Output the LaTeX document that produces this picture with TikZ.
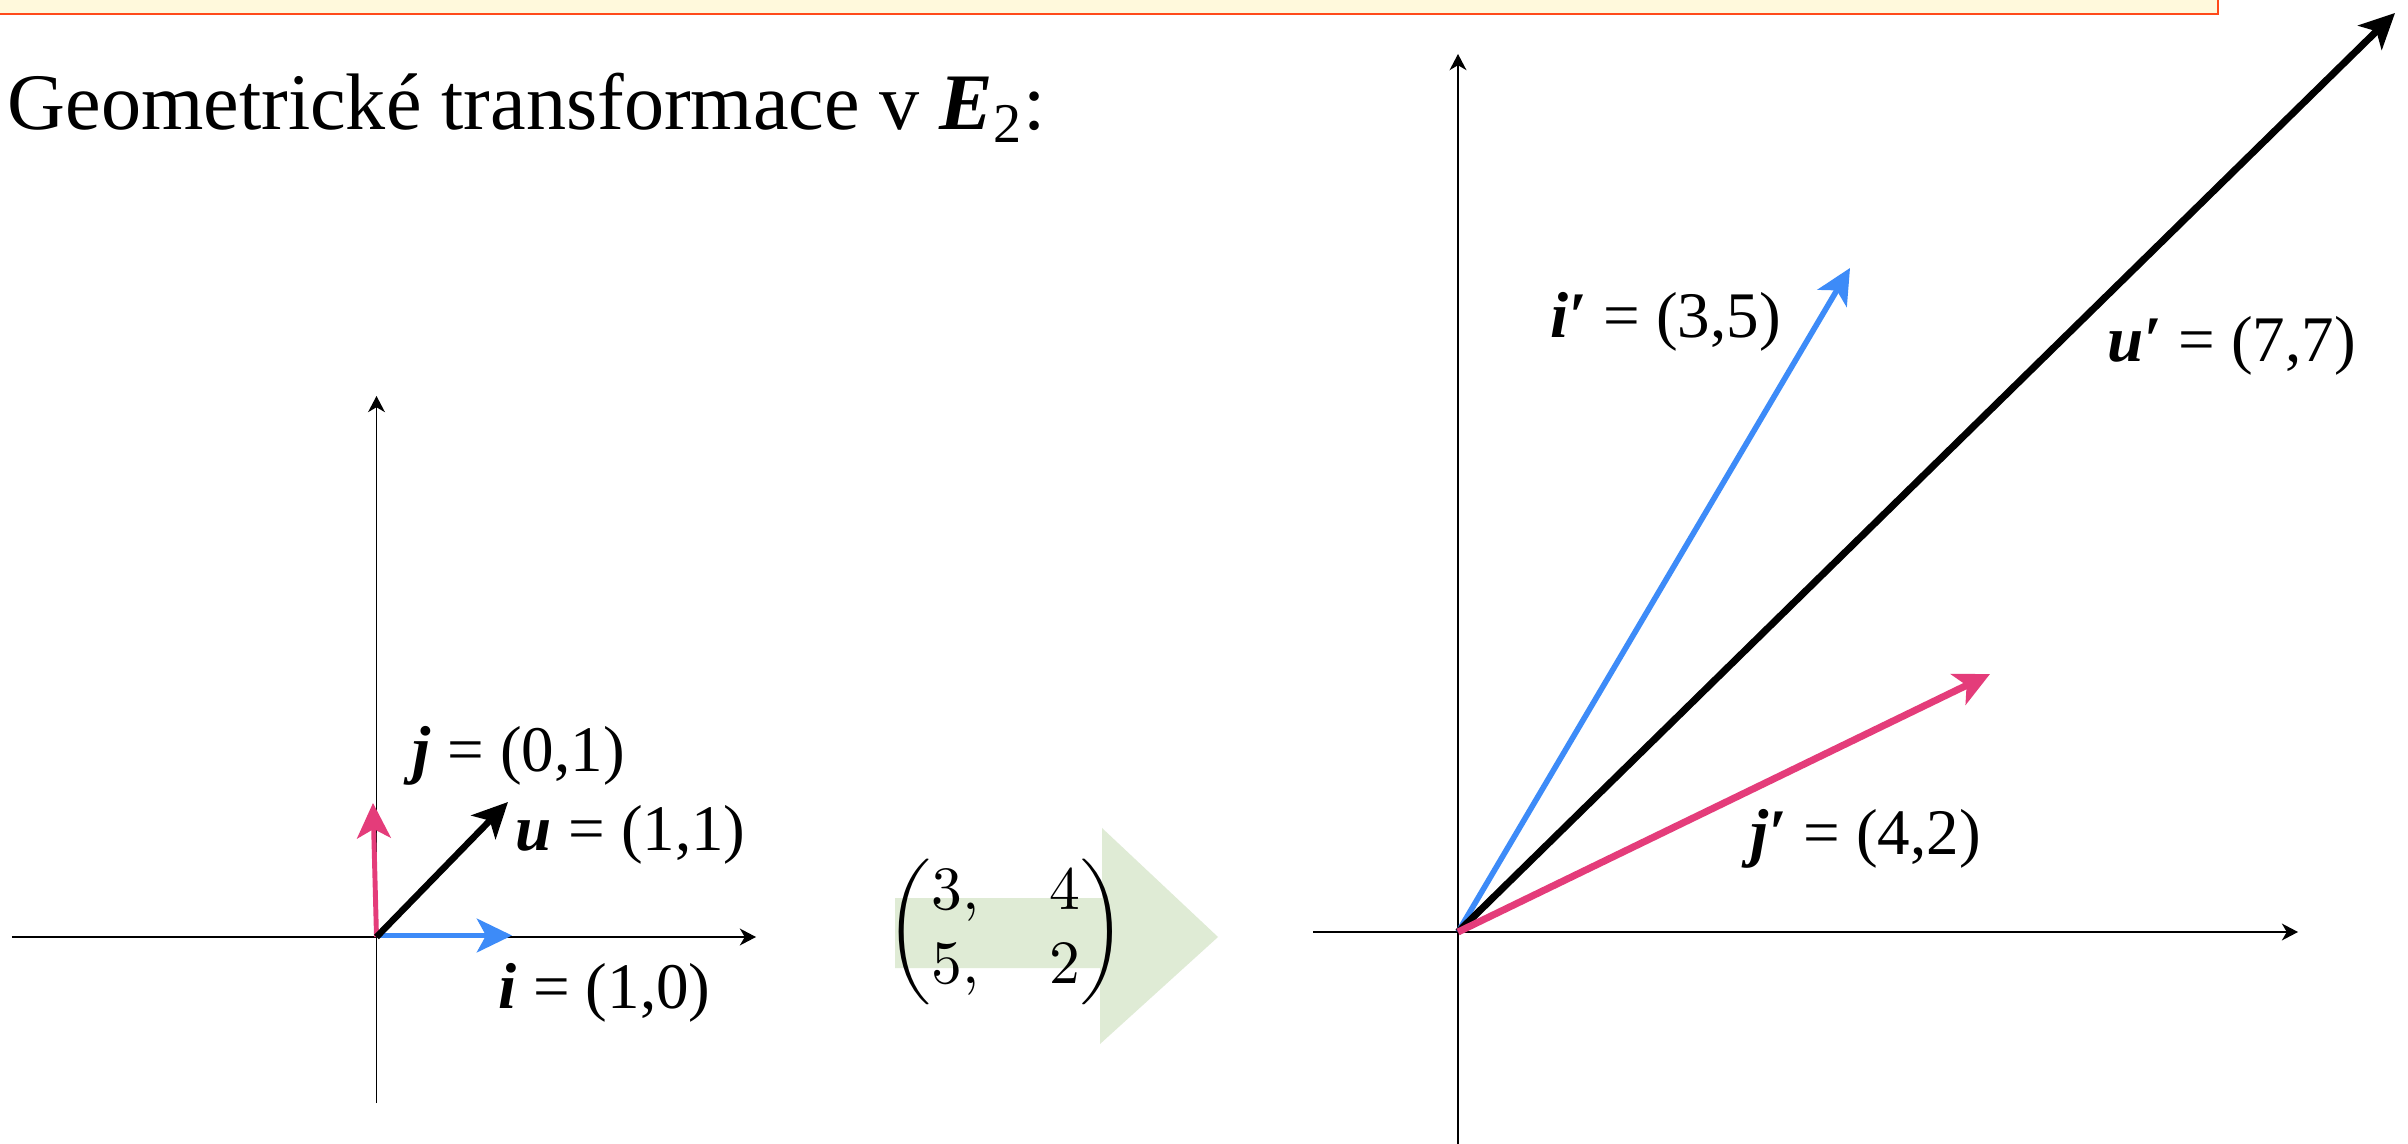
\documentclass[tikz,border=0pt]{standalone}
\usepackage{amsmath}
\usepackage{fontspec}
\setmainfont{Liberation Serif}
\newfontfamily\lmten{lmroman10-regular}[Extension=.otf]
\usetikzlibrary{arrows.meta}
\definecolor{vblue}{HTML}{3D8BF8}
\definecolor{vpink}{HTML}{E43C7A}
\definecolor{bannerfill}{HTML}{FFF9DC}
\definecolor{bannerline}{HTML}{FF4A1A}
\definecolor{arrowgreen}{HTML}{DFEBD5}
\newcommand{\mdig}[1]{\text{\lmten #1}}
\begin{document}
\begin{tikzpicture}[
  axis/.style={line width=0.45pt, -{Stealth[length=4.6pt,width=4.8pt,inset=1.4pt]}},
  vec/.style={-{Stealth[length=10pt,width=9.6pt,inset=2.6pt]}},
  lbl/.style={font=\fontsize{18.5}{22}\selectfont, inner sep=0pt, anchor=base west},
]
\useasboundingbox (0,0) rectangle (24.08,11.43);
\clip (0,0) rectangle (24.08,11.43);
\fill[white] (0,0) rectangle (24.08,11.43);
% banner
\draw[fill=bannerfill, draw=bannerline, line width=0.8pt] (-0.2,11.29) rectangle (22.18,11.9);
% title
\node[anchor=base west, inner sep=0pt, font=\fontsize{22.8}{28}\selectfont] (title) at (0.07,10.13)
  {Geometrické transformace v \textbf{\textit{E}}\textsubscript{2}:};

% left axes
\coordinate (O1) at (3.765,2.06);
\coordinate (Lxa) at (0.12,2.06);
\coordinate (Lxb) at (7.56,2.06);
\coordinate (Lya) at (3.765,0.40);
\coordinate (Lyb) at (3.765,7.47);
\draw[axis] (Lxa) -- (Lxb);
\draw[axis] (Lya) -- (Lyb);
\coordinate (O1b) at (3.765,2.075);
\coordinate (Ti) at (5.12,2.075);
\coordinate (Tj) at (3.73,3.40);
\coordinate (Tu) at (5.08,3.41);
\draw[vec, vpink, line width=1.4pt] (O1) -- (Tj);
\draw[vec, vblue, line width=1.4pt] (O1b) -- (Ti);
\draw[vec, black, line width=1.85pt] (O1) -- (Tu);
\node[lbl] (jlab) at (4.12,3.71) {\textbf{\textit{j}} = (0,1)};
\node[lbl] (ulab) at (5.15,2.93) {\textbf{\textit{u}} = (1,1)};
\node[lbl] (ilab) at (4.98,1.35) {\textbf{\textit{i}} = (1,0)};

% transformation arrow with matrix
\fill[arrowgreen] (8.95,2.45) -- (11.02,2.45) -- (11.02,3.15) -- (12.18,2.06) -- (11.00,0.99) -- (11.00,1.75) -- (8.95,1.75) -- cycle;
\node[font=\fontsize{17.5}{21}\selectfont, inner sep=0pt] (mat) at (10.06,2.11)
  {$\setlength{\arraycolsep}{10pt}\begin{pmatrix}\mdig{3,} & \mdig{4}\\ \mdig{5,} & \mdig{2}\end{pmatrix}$};

% right axes
\coordinate (O2) at (14.58,2.11);
\coordinate (Rxa) at (13.13,2.11);
\coordinate (Rxb) at (22.98,2.11);
\coordinate (Rya) at (14.58,-0.05);
\coordinate (Ryb) at (14.58,10.89);
\draw[axis] (Rxa) -- (Rxb);
\draw[axis] (Rya) -- (Ryb);
\coordinate (Tip) at (18.50,8.75);
\coordinate (Tjp) at (19.90,4.69);
\coordinate (Tup) at (23.95,11.30);
\draw[vec, vblue, line width=1.6pt] (O2) -- (Tip);
\draw[vec, black, line width=2pt] (O2) -- (Tup);
\draw[vec, vpink, line width=2pt] (O2) -- (Tjp);
\node[lbl] (iplab) at (15.50,8.05) {\textbf{\textit{i′}} = (3,5)};
\node[lbl] (uplab) at (21.07,7.81) {\textbf{\textit{u′}} = (7,7)};
\node[lbl] (jplab) at (17.50,2.89) {\textbf{\textit{j′}} = (4,2)};
\end{tikzpicture}
\end{document}
